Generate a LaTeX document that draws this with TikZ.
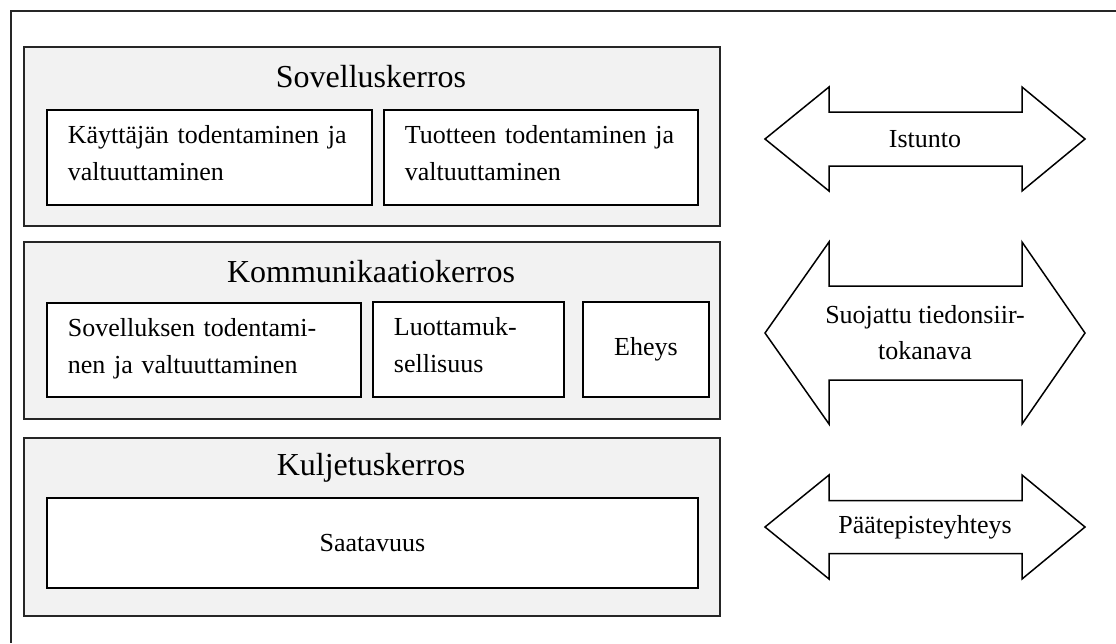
\documentclass[tikz,border=0pt]{standalone}
\usepackage{fontspec}
\setmainfont{Liberation Serif}
\definecolor{layergray}{HTML}{F2F2F2}
% invisible strut that gives the last text line a fixed depth
\newcommand\lastdepth{\rule[-8pt]{0pt}{8pt}}
\tikzset{
  frameline/.style={line width=1.8pt, draw=black!85},
  layerbox/.style={draw=black!85, line width=1.8pt, fill=layergray, anchor=north west, inner sep=0pt},
  layertitle/.style={anchor=base, inner sep=0pt, font=\fontsize{32}{38}\selectfont},
  innerbox/.style={draw=black, line width=1.8pt, fill=white, anchor=north west, inner ysep=0pt,
    inner xsep=21pt, align=left, font=\fontsize{26}{37}\selectfont},
  centerbox/.style={draw=black, line width=1.8pt, fill=white, anchor=north west, inner sep=0pt,
    align=center, font=\fontsize{26}{37}\selectfont},
  arrowshape/.style={draw=black, line width=1.5pt, fill=white, line join=miter},
  arrowtext/.style={inner sep=0pt, align=center, font=\fontsize{26}{36}\selectfont},
}
% double-headed block arrow centred at (925,#1): outer half height #2, shaft half height #3
\newcommand\blockarrow[3]{%
  \path[arrowshape] (765,#1) -- (829,#1-#2) -- (829,#1-#3) -- (1022,#1-#3) -- (1022,#1-#2)
    -- (1085,#1) -- (1022,#1+#2) -- (1022,#1+#3) -- (829,#1+#3) -- (829,#1+#2) -- cycle;}
\begin{document}
\begin{tikzpicture}[x=1pt, y=-1pt]
\useasboundingbox (0,0) rectangle (1116,643);

% outer frame (open to the right and bottom)
\draw[frameline] (1116,11) -- (11,11) -- (11,643);

% application layer
\node[layerbox, minimum width=696pt, minimum height=179pt] (app) at (23,46) {};
\node[layertitle] (apptitle) at (371,87) {Sovelluskerros};
\node[innerbox, minimum width=325pt, minimum height=95pt, text width=283pt] (userauth) at (46,109)
  {Käyttäjän todentaminen ja\\valtuuttaminen\lastdepth};
\node[innerbox, minimum width=314pt, minimum height=95pt, text width=272pt] (prodauth) at (383,109)
  {Tuotteen todentaminen ja\\valtuuttaminen\lastdepth};

% communication layer
\node[layerbox, minimum width=696pt, minimum height=177pt] (comm) at (23,241) {};
\node[layertitle] (commtitle) at (371,282) {Kommunikaatiokerros};
\node[innerbox, minimum width=314pt, minimum height=94pt, text width=272pt] (appauth) at (46,302)
  {Sovelluksen todentami-\\nen ja valtuuttaminen\lastdepth};
\node[innerbox, minimum width=191pt, minimum height=95pt, text width=149pt] (conf) at (372,301)
  {Luottamuk-\\sellisuus\lastdepth};
\node[centerbox, minimum width=126pt, minimum height=95pt] (integ) at (582,301) {Eheys};

% transport layer
\node[layerbox, minimum width=696pt, minimum height=178pt] (trans) at (23,437) {};
\node[layertitle] (transtitle) at (371,475) {Kuljetuskerros};
\node[centerbox, minimum width=651pt, minimum height=90pt] (avail) at (46,497) {Saatavuus};

% block arrows
\blockarrow{139}{52}{27}
\node[arrowtext] (session) at (925,139) {Istunto};
\blockarrow{333}{91}{47}
\node[arrowtext] (channel) at (925,333) {Suojattu tiedonsiir-\\tokanava};
\blockarrow{527}{52}{26.5}
\node[arrowtext] (endpoint) at (925,527) {Päätepisteyhteys};
\end{tikzpicture}
\end{document}
